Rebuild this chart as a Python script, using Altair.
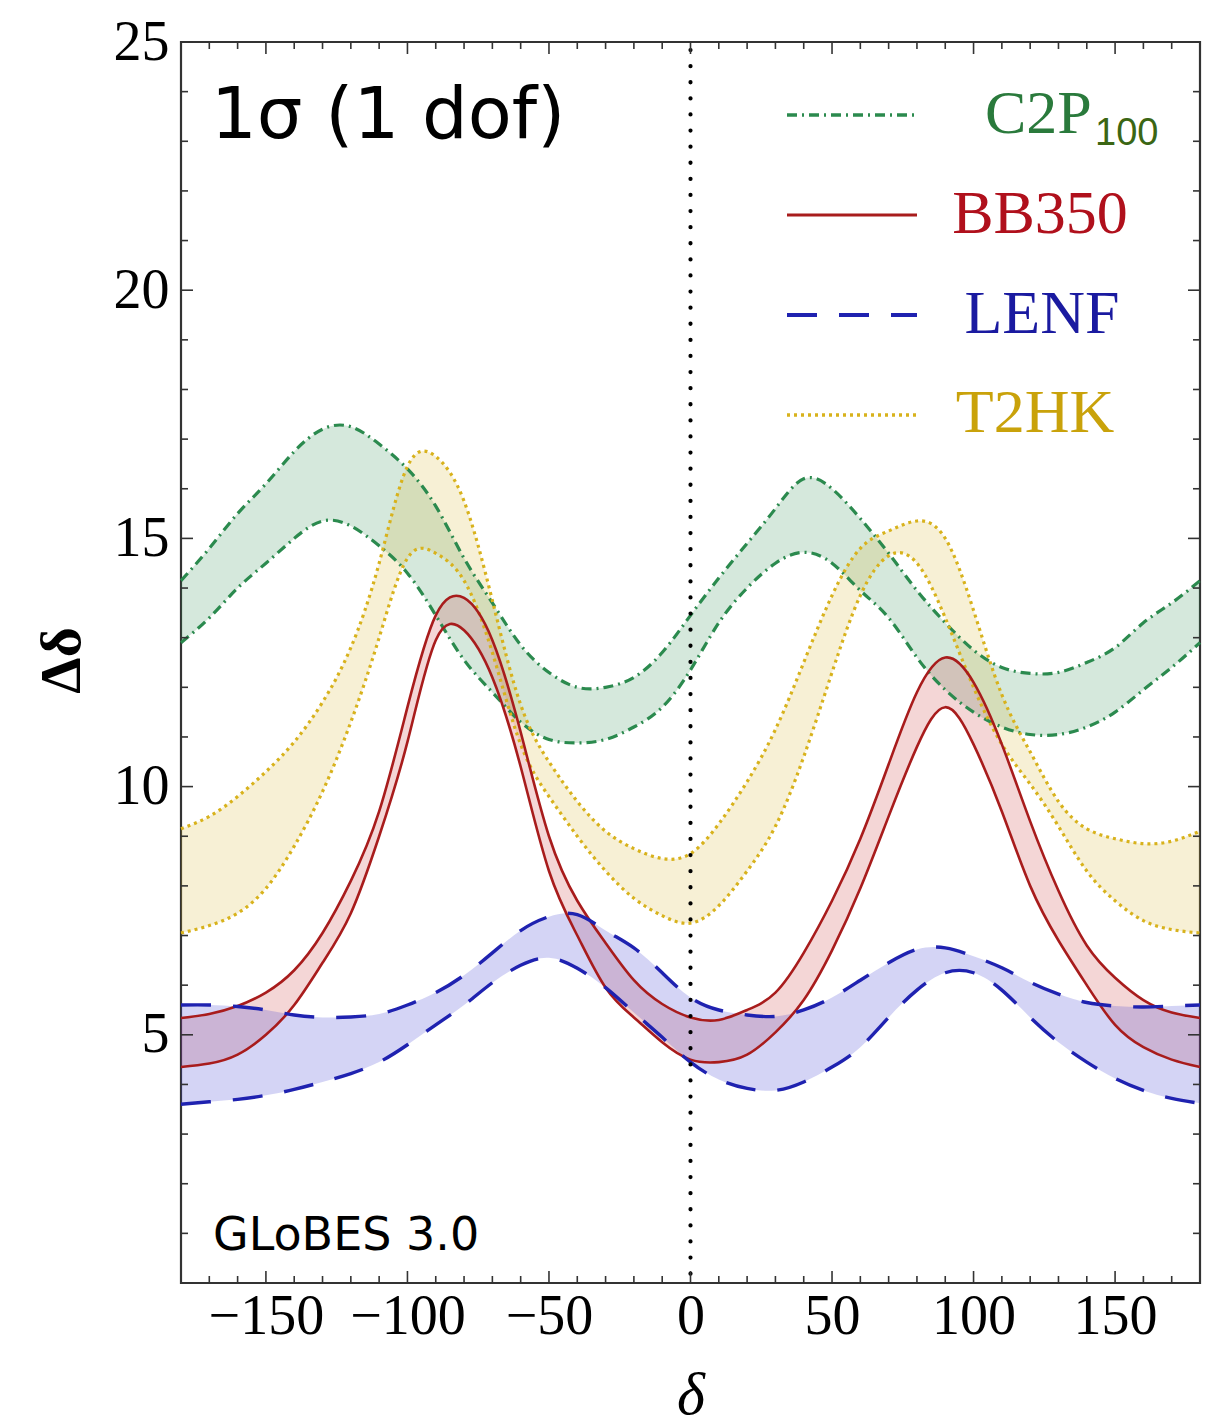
import altair as alt
import pandas as pd

# ---------------- data ----------------
delta = list(range(-180, 181, 10))

c2p_hi = [14.15, 14.8, 15.5, 16.1, 16.75, 17.2, 17.25, 16.9, 16.4, 15.65, 14.6, 13.7, 12.85,
          12.3, 12.0, 12.0, 12.2, 12.7, 13.45, 14.2, 14.9, 15.6, 16.2, 16.0, 15.4, 14.7,
          13.95, 13.3, 12.75, 12.4, 12.28, 12.3, 12.5, 12.8, 13.3, 13.7, 14.15]
c2p_lo = [12.9, 13.4, 14.0, 14.5, 15.0, 15.35, 15.25, 14.85, 14.3, 13.45, 12.55, 11.9, 11.3,
          10.95, 10.88, 10.95, 11.2, 11.6, 12.35, 13.3, 14.0, 14.5, 14.72, 14.5, 13.95, 13.4,
          12.6, 11.95, 11.5, 11.2, 11.05, 11.05, 11.2, 11.5, 11.95, 12.4, 12.9]

t2hk_hi = [9.15, 9.4, 9.8, 10.3, 10.9, 11.7, 12.8, 14.5, 16.45, 16.65, 15.75, 13.75, 11.65,
           10.5, 9.7, 9.1, 8.75, 8.55, 8.65, 9.25, 10.1, 11.15, 12.5, 13.85, 14.8, 15.15,
           15.35, 15.0, 13.55, 11.85, 10.7, 9.7, 9.15, 8.95, 8.85, 8.9, 9.1]
t2hk_lo = [7.05, 7.2, 7.45, 7.95, 8.8, 9.9, 11.3, 13.0, 14.6, 14.7, 14.15, 12.7, 10.85,
           9.8, 9.0, 8.3, 7.75, 7.4, 7.25, 7.6, 8.3, 9.2, 10.6, 12.3, 13.85, 14.65,
           14.5, 13.4, 12.0, 10.85, 10.05, 9.2, 8.3, 7.7, 7.3, 7.12, 7.05]

bb_hi = [5.34, 5.42, 5.58, 5.85, 6.3, 7.05, 8.1, 9.5, 11.6, 13.45, 13.8, 12.95, 11.1,
         9.0, 7.7, 6.85, 6.1, 5.62, 5.35, 5.3, 5.5, 5.85, 6.65, 7.7, 8.95, 10.45,
         11.9, 12.6, 12.1, 10.85, 9.3, 7.9, 6.8, 6.15, 5.7, 5.45, 5.34]
bb_lo = [4.35, 4.42, 4.6, 5.0, 5.6, 6.45, 7.45, 9.0, 10.9, 12.95, 13.15, 12.2, 10.4,
         8.3, 7.0, 5.95, 5.35, 4.85, 4.5, 4.45, 4.6, 5.05, 5.7, 6.7, 7.95, 9.4,
         10.8, 11.6, 10.85, 9.5, 8.0, 6.9, 6.0, 5.2, 4.75, 4.5, 4.35]

lenf_hi = [5.6, 5.6, 5.57, 5.5, 5.4, 5.35, 5.36, 5.42, 5.6, 5.85, 6.2, 6.65, 7.1,
           7.38, 7.42, 7.1, 6.75, 6.25, 5.75, 5.5, 5.4, 5.37, 5.5, 5.75, 6.1, 6.45,
           6.72, 6.75, 6.58, 6.35, 6.06, 5.82, 5.65, 5.58, 5.56, 5.58, 5.6]
lenf_lo = [3.6, 3.65, 3.7, 3.78, 3.9, 4.05, 4.22, 4.45, 4.8, 5.2, 5.6, 6.05, 6.4,
           6.55, 6.34, 5.95, 5.45, 4.95, 4.45, 4.1, 3.92, 3.88, 4.05, 4.35, 4.75, 5.35,
           5.9, 6.25, 6.25, 5.9, 5.35, 4.85, 4.45, 4.12, 3.88, 3.72, 3.62]

x_ticks = [-150, -100, -50, 0, 50, 100, 150]
x_minor = [v for v in range(-170, 180, 10) if v % 50 != 0]
y_ticks = [0, 5, 10, 15, 20, 25]
y_labels = [5, 10, 15, 20, 25]
y_minor = [v for v in range(1, 25) if v % 5 != 0]

legend_names = ["C2P", "BB350", "LENF", "T2HK"]

# ---------------- layout / styles ----------------
W, H = 1019, 1241
SERIF = "Liberation Serif"
SANS = "DejaVu Sans"

df = pd.DataFrame({
    "delta": delta,
    "c2p_hi": c2p_hi, "c2p_lo": c2p_lo,
    "t2hk_hi": t2hk_hi, "t2hk_lo": t2hk_lo,
    "bb_hi": bb_hi, "bb_lo": bb_lo,
    "lenf_hi": lenf_hi, "lenf_lo": lenf_lo,
})

xscale = alt.Scale(domain=[-180, 180], nice=False, zero=False)
yscale = alt.Scale(domain=[0, 25], nice=False, zero=False)

XA = alt.Axis(values=x_ticks, grid=False, ticks=False, domain=False,
              labelFont=SERIF, labelFontSize=56, labelColor="black",
              labelPadding=6, title="δ", titleFont=SERIF, titleFontSize=60,
              titleFontStyle="italic", titleFontWeight="normal", titleColor="black",
              titleX=W / 2, titleY=112, titleBaseline="middle", titleAlign="center")
YA = alt.Axis(values=y_labels, grid=False, ticks=False, domain=False,
              labelFont=SERIF, labelFontSize=56, labelColor="black",
              labelPadding=12, title="Δδ", titleFont=SERIF, titleFontSize=58,
              titleFontWeight="bold", titleColor="black", titleAngle=270,
              titleX=-119, titleY=618, titleBaseline="middle", titleAlign="center")


def X(field):
    return alt.X(field, scale=xscale, axis=XA)


def Y(field):
    return alt.Y(field, scale=yscale, axis=YA)


INTERP = "natural"

styles = {
    "c2p": dict(color="#2b8a4e", dash=[10, 5, 2, 5], width=3.2),
    "t2hk": dict(color="#d8b21c", dash=[3, 4], width=3.2),
    "bb": dict(color="#a81c1c", dash=None, width=2.6),
    "lenf": dict(color="#1f22b0", dash=[30, 22], width=3.4),
}
fill_colors = {"c2p": "#2b8a4e", "t2hk": "#d9b22c", "bb": "#c83030", "lenf": "#3a3ad0"}
fill_op = {"c2p": 0.2, "t2hk": 0.2, "bb": 0.2, "lenf": 0.22}


def band_fill(key):
    return alt.Chart(df).mark_area(
        color=fill_colors[key], opacity=fill_op[key], interpolate=INTERP
    ).encode(
        x=X("delta:Q"),
        y=Y(f"{key}_hi:Q"),
        y2=alt.Y2(f"{key}_lo:Q"),
    )


def band_lines(key):
    st = styles[key]
    kw = dict(color=st["color"], strokeWidth=st["width"], interpolate=INTERP)
    if st["dash"]:
        kw["strokeDash"] = st["dash"]
    return alt.Chart(df).transform_fold(
        [f"{key}_hi", f"{key}_lo"], as_=["bound", "val"]
    ).mark_line(**kw).encode(
        x=X("delta:Q"),
        y=Y("val:Q"),
        detail="bound:N",
    )


fills = [band_fill(k) for k in ["c2p", "t2hk", "bb", "lenf"]]
lines = [band_lines(k) for k in ["c2p", "t2hk", "bb", "lenf"]]

# vertical dotted line at delta = 0
zero_line = alt.Chart(pd.DataFrame({"v": [0]})).mark_rule(
    color="black", strokeWidth=4.2, strokeDash=[0.1, 16], strokeCap="round"
).encode(x=X("v:Q"), y=alt.value(8), y2=alt.value(H))

# inward frame ticks
TICK = "#333333"


def yticks(vals, length, right=False):
    x0, x1 = (W - length, W) if right else (0, length)
    return alt.Chart(pd.DataFrame({"v": vals})).mark_rule(color=TICK, strokeWidth=1.6).encode(
        y=Y("v:Q"), x=alt.value(x0), x2=alt.value(x1))


def xticks(vals, length, top=False):
    y0, y1 = (0, length) if top else (H - length, H)
    return alt.Chart(pd.DataFrame({"v": vals})).mark_rule(color=TICK, strokeWidth=1.6).encode(
        x=X("v:Q"), y=alt.value(y0), y2=alt.value(y1))


ticks = [
    yticks(y_ticks, 12), yticks(y_minor, 7),
    yticks(y_ticks, 12, right=True), yticks(y_minor, 7, right=True),
    xticks(x_ticks, 12), xticks(x_minor, 7),
    xticks(x_ticks, 12, top=True), xticks(x_minor, 7, top=True),
]

# legend (drawn inside the frame, top right)
LX0, LX1 = 606, 736
leg = []
leg_rows = [
    ("c2p", 73, legend_names[0], 804, 91, "left", "#2a7a3c"),
    ("bb", 173, legend_names[1], 859, 191, "center", "#b0101c"),
    ("lenf", 273, legend_names[2], 861, 291, "center", "#1a1aa0"),
    ("t2hk", 373, legend_names[3], 854, 390, "center", "#c9a20a"),
]
for key, ly, name, tx, ty, align, tcol in leg_rows:
    st = styles[key]
    kw = dict(color=st["color"], strokeWidth=st["width"] + 0.4)
    if st["dash"]:
        kw["strokeDash"] = st["dash"]
    leg.append(alt.Chart(pd.DataFrame({"n": [name]})).mark_rule(**kw).encode(
        x=alt.value(LX0), x2=alt.value(LX1), y=alt.value(ly)))
    leg.append(alt.Chart(pd.DataFrame({"n": [name]})).mark_text(
        font=SERIF, fontSize=62, color=tcol, align=align, baseline="alphabetic"
    ).encode(x=alt.value(tx), y=alt.value(ty), text="n:N"))

leg.append(alt.Chart(pd.DataFrame({"n": ["100"]})).mark_text(
    font="Liberation Sans", fontSize=38, color="#3b6614", align="left", baseline="alphabetic"
).encode(x=alt.value(914), y=alt.value(103), text="n:N"))

# annotations
notes = [
    alt.Chart(pd.DataFrame({"t": ["1σ (1 dof)"]})).mark_text(
        font=SANS, fontSize=72, color="black", align="left", baseline="alphabetic"
    ).encode(x=alt.value(30), y=alt.value(96), text="t:N"),
    alt.Chart(pd.DataFrame({"t": ["GLoBES 3.0"]})).mark_text(
        font=SANS, fontSize=46, color="black", align="left", baseline="alphabetic"
    ).encode(x=alt.value(32), y=alt.value(1208), text="t:N"),
]

chart = alt.layer(*fills, *lines, zero_line, *ticks, *leg, *notes).properties(
    width=W, height=H,
    autosize=alt.AutoSizeParams(type="none"),
    padding={"left": 181, "top": 42, "right": 17, "bottom": 145},
    background="white",
).configure_view(stroke="#333333", strokeWidth=2.2)

chart.save("out.html", embed_options={"renderer": "svg", "actions": False})
